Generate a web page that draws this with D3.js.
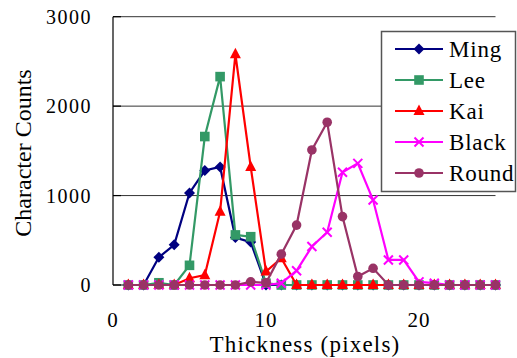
<!DOCTYPE html>
<html>
<head>
	<meta charset="utf-8">
	<script src="https://cdnjs.cloudflare.com/ajax/libs/d3/7.8.5/d3.min.js"></script>
</head>
<body style="margin:0">
	<svg width="517" height="358"></svg>
	<script>
		// thickness in pixels, 1..25
		const thickness = [1,2,3,4,5,6,7,8,9,10,11,12,13,14,15,16,17,18,19,20,21,22,23,24,25];

		const ming  = [0,0,310,450,1030,1280,1320,530,480,0,0,0,0,0,0,0,0,0,0,0,0,0,0,0,0];
		const lee   = [0,0,25,0,220,1660,2330,560,540,20,0,0,0,0,0,0,0,0,0,0,0,0,0,0,0];
		const kai   = [0,0,0,0,75,110,820,2580,1320,150,300,0,0,0,0,0,0,0,0,0,0,0,0,0,0];
		const black = [0,0,0,0,0,0,0,0,0,0,20,160,430,590,1260,1360,950,280,280,35,20,0,0,0,0];
		const round = [0,0,0,0,0,0,0,0,35,25,345,670,1510,1820,765,95,187,0,0,0,0,0,0,0,0];

		const seriesNames = ["Ming", "Lee", "Kai", "Black", "Round"];
		const seriesColors = ["#000080", "#339966", "#ff0000", "#ff00ff", "#993366"];
		const seriesShapes = ["diamond", "square", "triangle", "x", "circle"];
		const seriesValues = [ming, lee, kai, black, round];

		const xTicks = [0, 10, 20];
		const yTicks = [0, 1000, 2000, 3000];

		let svg = d3.select('svg');

		let x = d3.scaleLinear().domain([0, 25]).range([113, 495.5]);
		let y = d3.scaleLinear().domain([0, 3000]).range([285, 16.7]);

		// text first
		svg.selectAll('text.ytick')
			.data(yTicks)
			.enter()
			.append('text')
			.attr('class', 'ytick')
			.attr('x', 92)
			.attr('y', d => y(d) + 7)
			.attr('text-anchor', 'end')
			.attr('font-size', 20)
			.attr('letter-spacing', 1.5)
			.style('font-family', '"Liberation Serif"')
			.text(d => d);

		svg.selectAll('text.xtick')
			.data(xTicks)
			.enter()
			.append('text')
			.attr('class', 'xtick')
			.attr('x', d => x(d))
			.attr('y', 327)
			.attr('text-anchor', 'middle')
			.attr('font-size', 21)
			.attr('letter-spacing', 1)
			.style('font-family', '"Liberation Serif"')
			.text(d => d);

		svg.append('text')
			.attr('x', 305)
			.attr('y', 352)
			.attr('text-anchor', 'middle')
			.attr('font-size', 23)
			.attr('letter-spacing', 1.2)
			.style('font-family', '"Liberation Serif"')
			.text('Thickness (pixels)');

		svg.append('text')
			.attr('transform', 'translate(31,153) rotate(-90)')
			.attr('text-anchor', 'middle')
			.attr('font-size', 24)
			.style('font-family', '"Liberation Serif"')
			.text('Character Counts');

		// grid lines
		svg.selectAll('line.grid')
			.data(yTicks.filter(d => d > 0))
			.enter()
			.append('line')
			.attr('class', 'grid')
			.attr('x1', x(0))
			.attr('x2', x(25))
			.attr('y1', d => y(d))
			.attr('y2', d => y(d))
			.attr('stroke', '#333')
			.attr('stroke-width', 1);

		// y axis with inside ticks
		svg.append('line')
			.attr('x1', x(0)).attr('x2', x(0))
			.attr('y1', y(0)).attr('y2', y(3000))
			.attr('stroke', '#000').attr('stroke-width', 1.2);
		svg.selectAll('line.ytickmark')
			.data(yTicks)
			.enter()
			.append('line')
			.attr('x1', x(0)).attr('x2', x(0) + 8)
			.attr('y1', d => y(d)).attr('y2', d => y(d))
			.attr('stroke', '#000').attr('stroke-width', 1.2);

		// x axis line
		svg.append('line')
			.attr('x1', x(0)).attr('x2', x(25))
			.attr('y1', y(0)).attr('y2', y(0))
			.attr('stroke', '#000');

		function marker(sel, shape, color) {
			if (shape == 'circle') {
				sel.append('circle').attr('r', 4.8).attr('fill', color);
			} else if (shape == 'square') {
				sel.append('rect').attr('x', -4.8).attr('y', -4.8).attr('width', 9.6).attr('height', 9.6).attr('fill', color);
			} else if (shape == 'diamond') {
				sel.append('path').attr('d', 'M0,-5.5L5.5,0L0,5.5L-5.5,0Z').attr('fill', color);
			} else if (shape == 'triangle') {
				sel.append('path').attr('d', 'M0,-6.5L5.5,4L-5.5,4Z').attr('fill', color);
			} else if (shape == 'x') {
				sel.append('path').attr('d', 'M-4.5,-4.5L4.5,4.5M4.5,-4.5L-4.5,4.5')
					.attr('stroke', color).attr('stroke-width', 2).attr('fill', 'none');
			}
		}

		let line = d3.line()
			.x((d, i) => x(thickness[i]))
			.y(d => y(d));

		seriesValues.forEach((vals, s) => {
			let g = svg.append('g');
			g.append('path')
				.attr('d', line(vals))
				.attr('fill', 'none')
				.attr('stroke', seriesColors[s])
				.attr('stroke-width', 2.2);
			g.selectAll('g.pt')
				.data(vals)
				.enter()
				.append('g')
				.attr('transform', (d, i) => `translate(${x(thickness[i])},${y(d)})`)
				.each(function() { marker(d3.select(this), seriesShapes[s], seriesColors[s]); });
		});

		// legend
		svg.append('rect')
			.attr('x', 381.5).attr('y', 31.5)
			.attr('width', 134).attr('height', 160)
			.attr('fill', '#fff')
			.attr('stroke', '#555')
			.attr('stroke-width', 1.5);

		let items = svg.selectAll('g.item')
			.data(seriesNames)
			.enter()
			.append('g')
			.attr('class', 'item')
			.attr('transform', (d, i) => `translate(0,${49 + i * 31})`);
		items.append('line')
			.attr('x1', 395).attr('x2', 443)
			.attr('stroke', (d, i) => seriesColors[i])
			.attr('stroke-width', 2.2);
		items.append('g')
			.attr('transform', 'translate(419,0)')
			.each(function(d, i) { marker(d3.select(this), seriesShapes[i], seriesColors[i]); });
		items.append('text')
			.attr('x', 449)
			.attr('y', 8)
			.attr('font-size', 23)
			.attr('letter-spacing', 0.8)
			.style('font-family', '"Liberation Serif"')
			.text(d => d);
	</script>
</body>
</html>
